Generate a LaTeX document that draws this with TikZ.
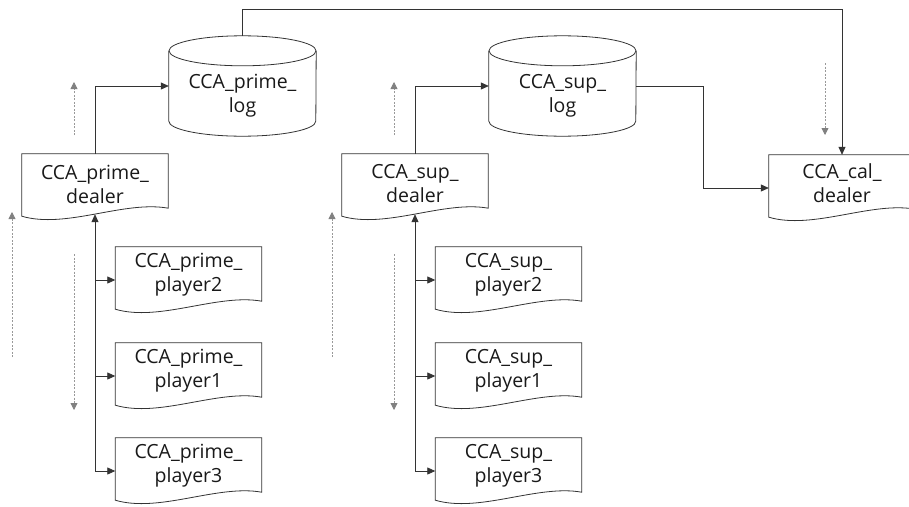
\documentclass[tikz,border=0pt]{standalone}
\usepackage{fontspec}
\setmainfont{Open Sans}
\usetikzlibrary{arrows.meta,calc}
\newcommand\docborder[1]{%
  \draw[line] (#1.north west) -- (#1.north east) -- ([yshift=12pt]#1.south east)
    .. controls ([xshift=-44pt,yshift=20pt]#1.south east) and ([xshift=44pt,yshift=-9pt]#1.south west)
    .. ([yshift=4pt]#1.south west) -- cycle;}
\newcommand\dbborder[1]{%
  \draw[line] ([yshift=-15pt]#1.north west) -- ([yshift=15pt]#1.south west)
    arc[start angle=180,end angle=360,x radius=73.5pt,y radius=15pt]
    -- ([yshift=-15pt]#1.north east);
  \draw[line] ([yshift=-15pt]#1.north) ellipse[x radius=73.5pt,y radius=15pt];}
\begin{document}
\begin{tikzpicture}[x=1pt,y=-1pt,
  line/.style={draw=black!80, line width=0.8pt},
  arr/.style={line, -{Triangle[length=8pt,width=7pt]}},
  arr2/.style={line, {Triangle[length=8pt,width=7pt]}-{Triangle[length=8pt,width=7pt]}},
  hint/.style={draw=black!40, line width=0.8pt, dash pattern=on 2pt off 1.5pt,
    -{Triangle[length=7pt,width=7pt,color=black!50]}},
  doc/.style={minimum width=146pt, minimum height=66pt, inner sep=0pt},
  db/.style={minimum width=147pt, minimum height=100pt, inner sep=0pt},
  lbl/.style={font=\fontsize{19.5}{24}\selectfont, align=center, text=black!90, inner sep=0pt}
]
\useasboundingbox (0,0) rectangle (909,506);

% prime column
\node[doc, label={[lbl,yshift=3pt]center:{CCA\_prime\_\\dealer}}] (pdeal) at (95,187) {};
\node[db, label={[lbl,yshift=-9.5pt]center:{CCA\_prime\_\\log}}] (plog) at (242.5,86) {};
\node[doc, label={[lbl,yshift=5pt]center:{CCA\_prime\_\\player2}}] (pp2) at (188.5,280) {};
\node[doc, label={[lbl,yshift=5pt]center:{CCA\_prime\_\\player1}}] (pp1) at (188.5,376) {};
\node[doc, label={[lbl,yshift=5pt]center:{CCA\_prime\_\\player3}}] (pp3) at (188.5,471) {};

% sup column
\node[doc, label={[lbl,yshift=3pt]center:{CCA\_sup\_\\dealer}}] (sdeal) at (415,187) {};
\node[db, label={[lbl,yshift=-9.5pt]center:{CCA\_sup\_\\log}}] (slog) at (562.5,86) {};
\node[doc, label={[lbl,yshift=5pt]center:{CCA\_sup\_\\player2}}] (sp2) at (508.5,280) {};
\node[doc, label={[lbl,yshift=5pt]center:{CCA\_sup\_\\player1}}] (sp1) at (508.5,376) {};
\node[doc, label={[lbl,yshift=5pt]center:{CCA\_sup\_\\player3}}] (sp3) at (508.5,471) {};

% cal dealer
\node[doc, label={[lbl,yshift=5pt]center:{CCA\_cal\_\\dealer}}] (cdeal) at (842,188) {};

\foreach \n in {pdeal,pp1,pp2,pp3,sdeal,sp1,sp2,sp3,cdeal} {\docborder{\n}}
\foreach \n in {plog,slog} {\dbborder{\n}}

% connectors
\draw[arr] (pdeal.north) |- (plog.west);
\draw[arr] (sdeal.north) |- (slog.west);
\draw[arr] (plog.north) -- ++(0,-26) -| (cdeal.north);
\draw[arr] (slog.east) -- ++(67,0) |- (cdeal.west);

\draw[arr2] (pp3.west) -| ([yshift=6pt]pdeal.south);
\draw[arr] (pdeal.south |- pp2.west) -- (pp2.west);
\draw[arr] (pdeal.south |- pp1.west) -- (pp1.west);
\draw[arr2] (sp3.west) -| ([yshift=6pt]sdeal.south);
\draw[arr] (sdeal.south |- sp2.west) -- (sp2.west);
\draw[arr] (sdeal.south |- sp1.west) -- (sp1.west);

% gray hint arrows
\coordinate (pa1) at (74,135); \coordinate (pb1) at (74,82);
\coordinate (pa2) at (12,357); \coordinate (pb2) at (12,212);
\coordinate (pa3) at (74,254); \coordinate (pb3) at (74,410);
\coordinate (sa1) at (394,135); \coordinate (sb1) at (394,82);
\coordinate (sa2) at (332,357); \coordinate (sb2) at (332,212);
\coordinate (sa3) at (394,254); \coordinate (sb3) at (394,410);
\coordinate (ca1) at (825,63); \coordinate (cb1) at (825,135);
\foreach \a/\b in {pa1/pb1,pa2/pb2,pa3/pb3,sa1/sb1,sa2/sb2,sa3/sb3,ca1/cb1}
  \draw[hint] (\a) -- (\b);
\end{tikzpicture}
\end{document}
